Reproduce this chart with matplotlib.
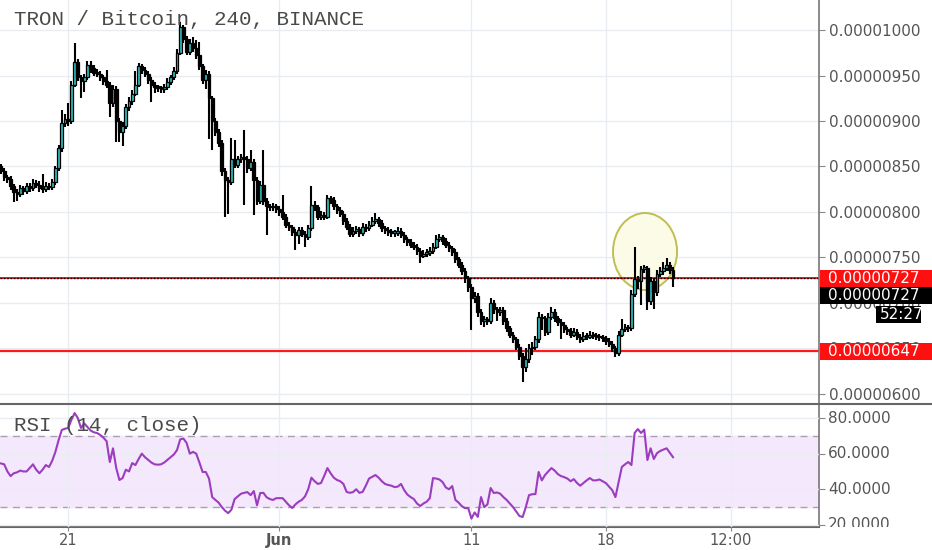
import matplotlib
matplotlib.use('Agg')
import matplotlib.pyplot as plt
import matplotlib.dates as mdates
from matplotlib.patches import Ellipse, Rectangle
from matplotlib.transforms import Bbox, TransformedBbox, blended_transform_factory
import numpy as np
import pandas as pd

# ============================================================================
# DADOS (velas de 4h, precos em satoshi = 1e-8 BTC)
# ============================================================================

first_open = 850
close = [
    845, 838, 836, 828, 822, 820, 826, 823, 828, 826,
    832, 830, 826, 825, 829, 827, 833, 848, 870, 898,
    902, 900, 940, 965, 948, 944, 948, 962, 958, 953,
    952, 948, 944, 940, 920, 935, 900, 888, 895, 915,
    922, 930, 940, 960, 956, 952, 945, 940, 937, 936,
    935, 937, 943, 948, 955, 975, 1003, 990, 976, 986,
    980, 972, 960, 945, 952, 925, 900, 888, 876, 845,
    835, 833, 858, 852, 858, 860, 858, 848, 855, 835,
    812, 830, 812, 806, 805, 806, 803, 800, 795, 786,
    783, 778, 775, 780, 776, 772, 782, 808, 805, 795,
    797, 795, 815, 813, 806, 802, 798, 790, 784, 776,
    779, 781, 777, 784, 782, 786, 790, 792, 788, 782,
    780, 778, 777, 777, 779, 775, 770, 767, 764, 762,
    757, 752, 754, 755, 757, 762, 770, 772, 768, 764,
    760, 756, 748, 742, 735, 727, 718, 705, 708, 690,
    680, 682, 680, 700, 693, 690, 692, 680, 672, 665,
    660, 652, 642, 630, 638, 650, 652, 660, 684, 683,
    668, 685, 690, 683, 679, 676, 671, 669, 665, 668,
    663, 660, 664, 663, 665, 664, 663, 662, 661, 658,
    655, 650, 645, 665, 671, 673, 672, 710, 726, 724,
    737, 738, 702, 724, 712, 732, 735, 738, 742, 736,
    727,
]
high = [
    853, 848, 841, 839, 831, 825, 830, 829, 832, 832,
    836, 835, 834, 842, 833, 832, 836, 851, 874, 912,
    908, 920, 944, 986, 968, 951, 952, 966, 966, 962,
    957, 955, 951, 956, 943, 940, 938, 903, 899, 919,
    926, 934, 955, 964, 963, 959, 955, 948, 943, 940,
    939, 941, 947, 951, 959, 979, 1009, 1006, 993, 990,
    992, 989, 987, 963, 956, 955, 928, 903, 891, 879,
    848, 838, 881, 879, 862, 864, 890, 861, 868, 858,
    838, 834, 868, 815, 809, 810, 809, 806, 819, 798,
    789, 786, 781, 784, 783, 779, 786, 829, 812, 808,
    801, 800, 819, 818, 816, 809, 805, 801, 793, 787,
    783, 785, 784, 788, 787, 790, 794, 799, 795, 791,
    785, 783, 781, 780, 783, 782, 778, 773, 770, 767,
    765, 760, 758, 759, 761, 766, 775, 776, 775, 771,
    767, 763, 759, 751, 745, 738, 730, 721, 712, 711,
    693, 686, 685, 705, 703, 696, 696, 695, 683, 675,
    668, 663, 655, 645, 650, 655, 657, 664, 690, 688,
    686, 689, 695, 693, 686, 682, 679, 674, 672, 672,
    671, 666, 668, 667, 669, 668, 667, 666, 665, 664,
    661, 658, 653, 669, 682, 677, 676, 714, 762, 730,
    741, 742, 741, 728, 727, 736, 739, 745, 749, 745,
    739,
]
low = [
    842, 834, 832, 824, 811, 812, 816, 819, 820, 822,
    823, 826, 822, 821, 822, 824, 824, 830, 845, 866,
    893, 895, 897, 937, 944, 925, 932, 945, 953, 949,
    948, 944, 940, 936, 904, 915, 877, 877, 872, 891,
    911, 918, 927, 937, 952, 948, 941, 921, 931, 932,
    931, 931, 934, 940, 945, 952, 972, 986, 972, 973,
    976, 968, 956, 941, 935, 880, 868, 884, 871, 840,
    795, 798, 830, 848, 848, 854, 808, 843, 845, 797,
    808, 809, 808, 775, 801, 801, 799, 796, 791, 782,
    779, 774, 758, 765, 772, 762, 769, 779, 801, 791,
    791, 791, 792, 809, 802, 798, 794, 786, 780, 772,
    773, 776, 773, 774, 778, 779, 783, 787, 784, 778,
    776, 774, 773, 773, 774, 771, 766, 763, 760, 758,
    753, 744, 749, 751, 752, 754, 759, 767, 764, 760,
    756, 752, 744, 738, 731, 722, 712, 670, 700, 685,
    676, 674, 676, 677, 688, 680, 686, 676, 668, 661,
    656, 648, 637, 613, 624, 634, 643, 648, 656, 670,
    664, 665, 681, 679, 675, 660, 667, 665, 661, 662,
    659, 656, 657, 659, 660, 660, 659, 658, 657, 654,
    651, 646, 641, 642, 662, 668, 668, 669, 706, 715,
    698, 733, 692, 698, 693, 708, 728, 731, 735, 732,
    717,
]
rsi = [
    54.5, 54.0, 50.0, 47.4, 49.0, 49.5, 50.5, 50.0, 50.0, 52.0,
    54.0, 51.0, 49.0, 51.0, 53.6, 52.5, 56.0, 61.0, 67.6, 73.3,
    74.0, 74.4, 79.0, 82.8, 80.0, 74.4, 77.0, 75.0, 73.0, 72.0,
    71.6, 70.5, 69.0, 67.0, 55.3, 63.0, 52.0, 45.2, 46.3, 51.0,
    50.0, 54.7, 53.6, 57.0, 60.0, 58.0, 56.5, 55.0, 54.0, 53.8,
    54.0, 55.0, 56.5, 58.0, 59.5, 62.0, 68.0, 68.5, 66.0, 60.0,
    61.0, 60.0, 55.0, 49.7, 49.7, 46.0, 35.6, 34.0, 32.5, 30.0,
    28.0, 26.6, 28.5, 34.5, 36.0, 37.5, 38.0, 38.4, 36.7, 39.0,
    31.0, 37.9, 38.0, 35.5, 34.5, 34.0, 35.0, 35.0, 35.0, 33.0,
    31.0, 29.5, 31.5, 33.0, 34.0, 36.0, 40.0, 46.5, 44.5, 43.0,
    43.5, 47.5, 51.9, 49.0, 46.5, 45.2, 44.5, 43.0, 38.5, 38.0,
    38.4, 40.0, 38.0, 38.5, 42.0, 46.0, 47.0, 48.0, 46.5, 44.5,
    43.0, 42.4, 42.0, 41.2, 41.5, 43.0, 39.5, 37.0, 35.6, 34.5,
    32.0, 30.6, 32.0, 33.0, 35.0, 46.3, 46.0, 45.5, 44.0, 41.0,
    40.0, 41.8, 34.0, 32.5, 30.5, 29.4, 29.4, 23.5, 27.0, 24.5,
    35.6, 30.0, 31.5, 40.7, 37.9, 38.2, 37.5, 35.6, 34.0, 32.0,
    30.0, 27.5, 25.0, 24.4, 30.0, 36.7, 37.2, 37.3, 49.7, 45.0,
    48.0, 50.0, 51.9, 50.5, 48.5, 47.4, 46.8, 46.0, 44.5, 45.7,
    43.5, 42.0, 43.5, 45.0, 46.3, 45.0, 45.0, 45.5, 44.5, 43.5,
    41.5, 39.5, 35.6, 44.0, 52.5, 54.0, 55.3, 53.6, 71.6, 73.8,
    71.6, 73.5, 56.4, 63.0, 57.0, 60.3, 61.5, 62.3, 63.0, 60.5,
    58.0,
]

support = 647
last_price = 727
countdown = '52:27'

price_ticks = [600, 650, 700, 750, 800, 850, 900, 950, 1000]
rsi_ticks = [20, 40, 60, 80]
x_tick_times = ['2018-05-21 00:00', '2018-06-01 00:00', '2018-06-11 00:00',
                '2018-06-18 00:00', '2018-06-24 12:00']
x_tick_labels = ['21', 'Jun', '11', '18', '12:00']

# ============================================================================
# GRAFICO
# ============================================================================

times = pd.date_range('2018-05-17 12:00', periods=len(close), freq='4h')
x = mdates.date2num(times)
t0 = x[0]
opens = np.array([first_open] + close[:-1], dtype=float)
closes = np.array(close, dtype=float)
up = closes >= opens

GRID = '#e9ecf0'
TXT = '#555555'
TEAL = '#2fbcbc'

fig = plt.figure(figsize=(9.32, 5.5), dpi=100)
fig.patch.set_facecolor('white')
ax = fig.add_axes([0, 0.2673, 0.8788, 0.7327])
ax2 = fig.add_axes([0, 0.0418, 0.8788, 0.2237], sharex=ax)

# --- painel de preco ---
body_lo = np.minimum(opens, closes)
body_h = np.maximum(np.abs(closes - opens), 2.0)
ax.vlines(x, low, high, color='black', lw=1.5, zorder=3)
ax.bar(x, body_h, bottom=body_lo, width=0.9 / 6, color=np.where(up, TEAL, 'black'),
       edgecolor='black', linewidth=0.9, zorder=4)

ax.axhline(support, color='#ff1a1a', lw=1.6, zorder=2)
ax.axhline(last_price, color='#e01010', lw=1.3, zorder=2)
ax.axhline(last_price, color='black', lw=1.0, ls=(0, (1.2, 1.2)), zorder=2)

ell = Ellipse((t0 + 644 / 19.2, 756.5), width=64 / 19.2, height=84.6,
              facecolor='#fbfbe6', edgecolor='#b8b840', lw=1.4, alpha=0.9, zorder=1)
ax.add_patch(ell)

ax.set_xlim(t0 - 1 / 19.2, t0 + 818 / 19.2)
ax.set_ylim(590, 1033)
ax.yaxis.tick_right()
ax.set_yticks(price_ticks)
ax.set_yticklabels([f'{v * 1e-8:.8f}' for v in price_ticks])
ax.tick_params(axis='y', labelsize=11, labelcolor=TXT, color='#888888', length=4, pad=3)
ax.tick_params(axis='x', bottom=False, labelbottom=False)
ax.grid(True, color=GRID, lw=1.0, zorder=0)
ax.set_axisbelow(True)
for s in ['top', 'left', 'bottom']:
    ax.spines[s].set_visible(False)
ax.spines['right'].set_color('#777777')
ax.spines['right'].set_linewidth(1.2)

ax.text(14 / 819, 1 - 20 / 403, 'TRON / Bitcoin, 240, BINANCE', transform=ax.transAxes,
        family='Liberation Mono', fontsize=15, color='#4a4a4a', va='center', ha='left', zorder=6)

# --- painel RSI ---
ax2.axhspan(30, 70, color='#f4e8fc', zorder=0)
ax2.axhline(70, color='#a9a0b3', lw=1.0, ls=(0, (5, 4)), zorder=1)
ax2.axhline(30, color='#a9a0b3', lw=1.0, ls=(0, (5, 4)), zorder=1)
ax2.plot(x, rsi, color='#9c3cbf', lw=1.5, zorder=3)
ax2.set_ylim(18.8, 87.9)
ax2.yaxis.tick_right()
ax2.set_yticks(rsi_ticks)
ax2.set_yticklabels([''] * len(rsi_ticks))
ax2.tick_params(axis='y', color='#888888', length=4)
ax2.grid(True, color=GRID, lw=1.0, zorder=0)
ax2.set_axisbelow(False)
for s in ['top', 'left']:
    ax2.spines[s].set_visible(False)
ax2.spines['right'].set_color('#777777')
ax2.spines['right'].set_linewidth(1.2)
ax2.spines['bottom'].set_color('#666666')
ax2.spines['bottom'].set_linewidth(1.5)

ax2.set_xticks(mdates.date2num(pd.to_datetime(x_tick_times)))
ax2.set_xticklabels(x_tick_labels)
ax2.tick_params(axis='x', labelsize=10.5, labelcolor=TXT, color='#888888', length=3, pad=1)
for lbl in ax2.get_xticklabels():
    if lbl.get_text() == 'Jun':
        lbl.set_fontweight('bold')

ax2.text(14 / 819, 1 - 22 / 123, 'RSI (14, close)', transform=ax2.transAxes,
         family='Liberation Mono', fontsize=15, color='#4a4a4a', va='center', ha='left', zorder=6)

# rotulos do eixo RSI (o de 20 fica cortado pela borda do painel)
trans2 = blended_transform_factory(fig.transFigure, ax2.transData)
clip = TransformedBbox(Bbox([[0.87, 0.0418], [1.0, 0.2655]]), fig.transFigure)
for v in rsi_ticks:
    t = ax2.text(828 / 932, v, f'{v:.4f}', transform=trans2, ha='left', va='center',
                 fontsize=11, color=TXT)
    t.set_clip_box(clip)
    t.set_clip_on(True)

# linha separadora entre paineis
fig.add_artist(plt.Line2D([0, 1], [1 - 403.5 / 550] * 2, color='#666666', lw=1.5,
                          transform=fig.transFigure))

# --- etiquetas de preco na escala ---
trans = blended_transform_factory(fig.transFigure, ax.transData)
box_h = 18.7
x_axis = 819.5 / 932


def etiqueta(y, texto, cor, x0=x_axis, x1=1.0, xt=828 / 932):
    fig.add_artist(Rectangle((x0, y - box_h / 2), x1 - x0, box_h, transform=trans,
                             facecolor=cor, edgecolor='none', zorder=5))
    fig.text(xt, y, texto, transform=trans, ha='left', va='center', fontsize=11,
             color='white', zorder=6)


etiqueta(last_price, f'{last_price * 1e-8:.8f}', '#ff1010')
etiqueta(last_price - box_h - 0.5, f'{last_price * 1e-8:.8f}', 'black')
etiqueta(last_price - 2 * box_h - 2.5, countdown, 'black', x0=876 / 932, x1=921 / 932, xt=880 / 932)
etiqueta(support, f'{support * 1e-8:.8f}', '#ff1010')

fig.savefig('out.png', dpi=100, facecolor='white')
print('ok')
